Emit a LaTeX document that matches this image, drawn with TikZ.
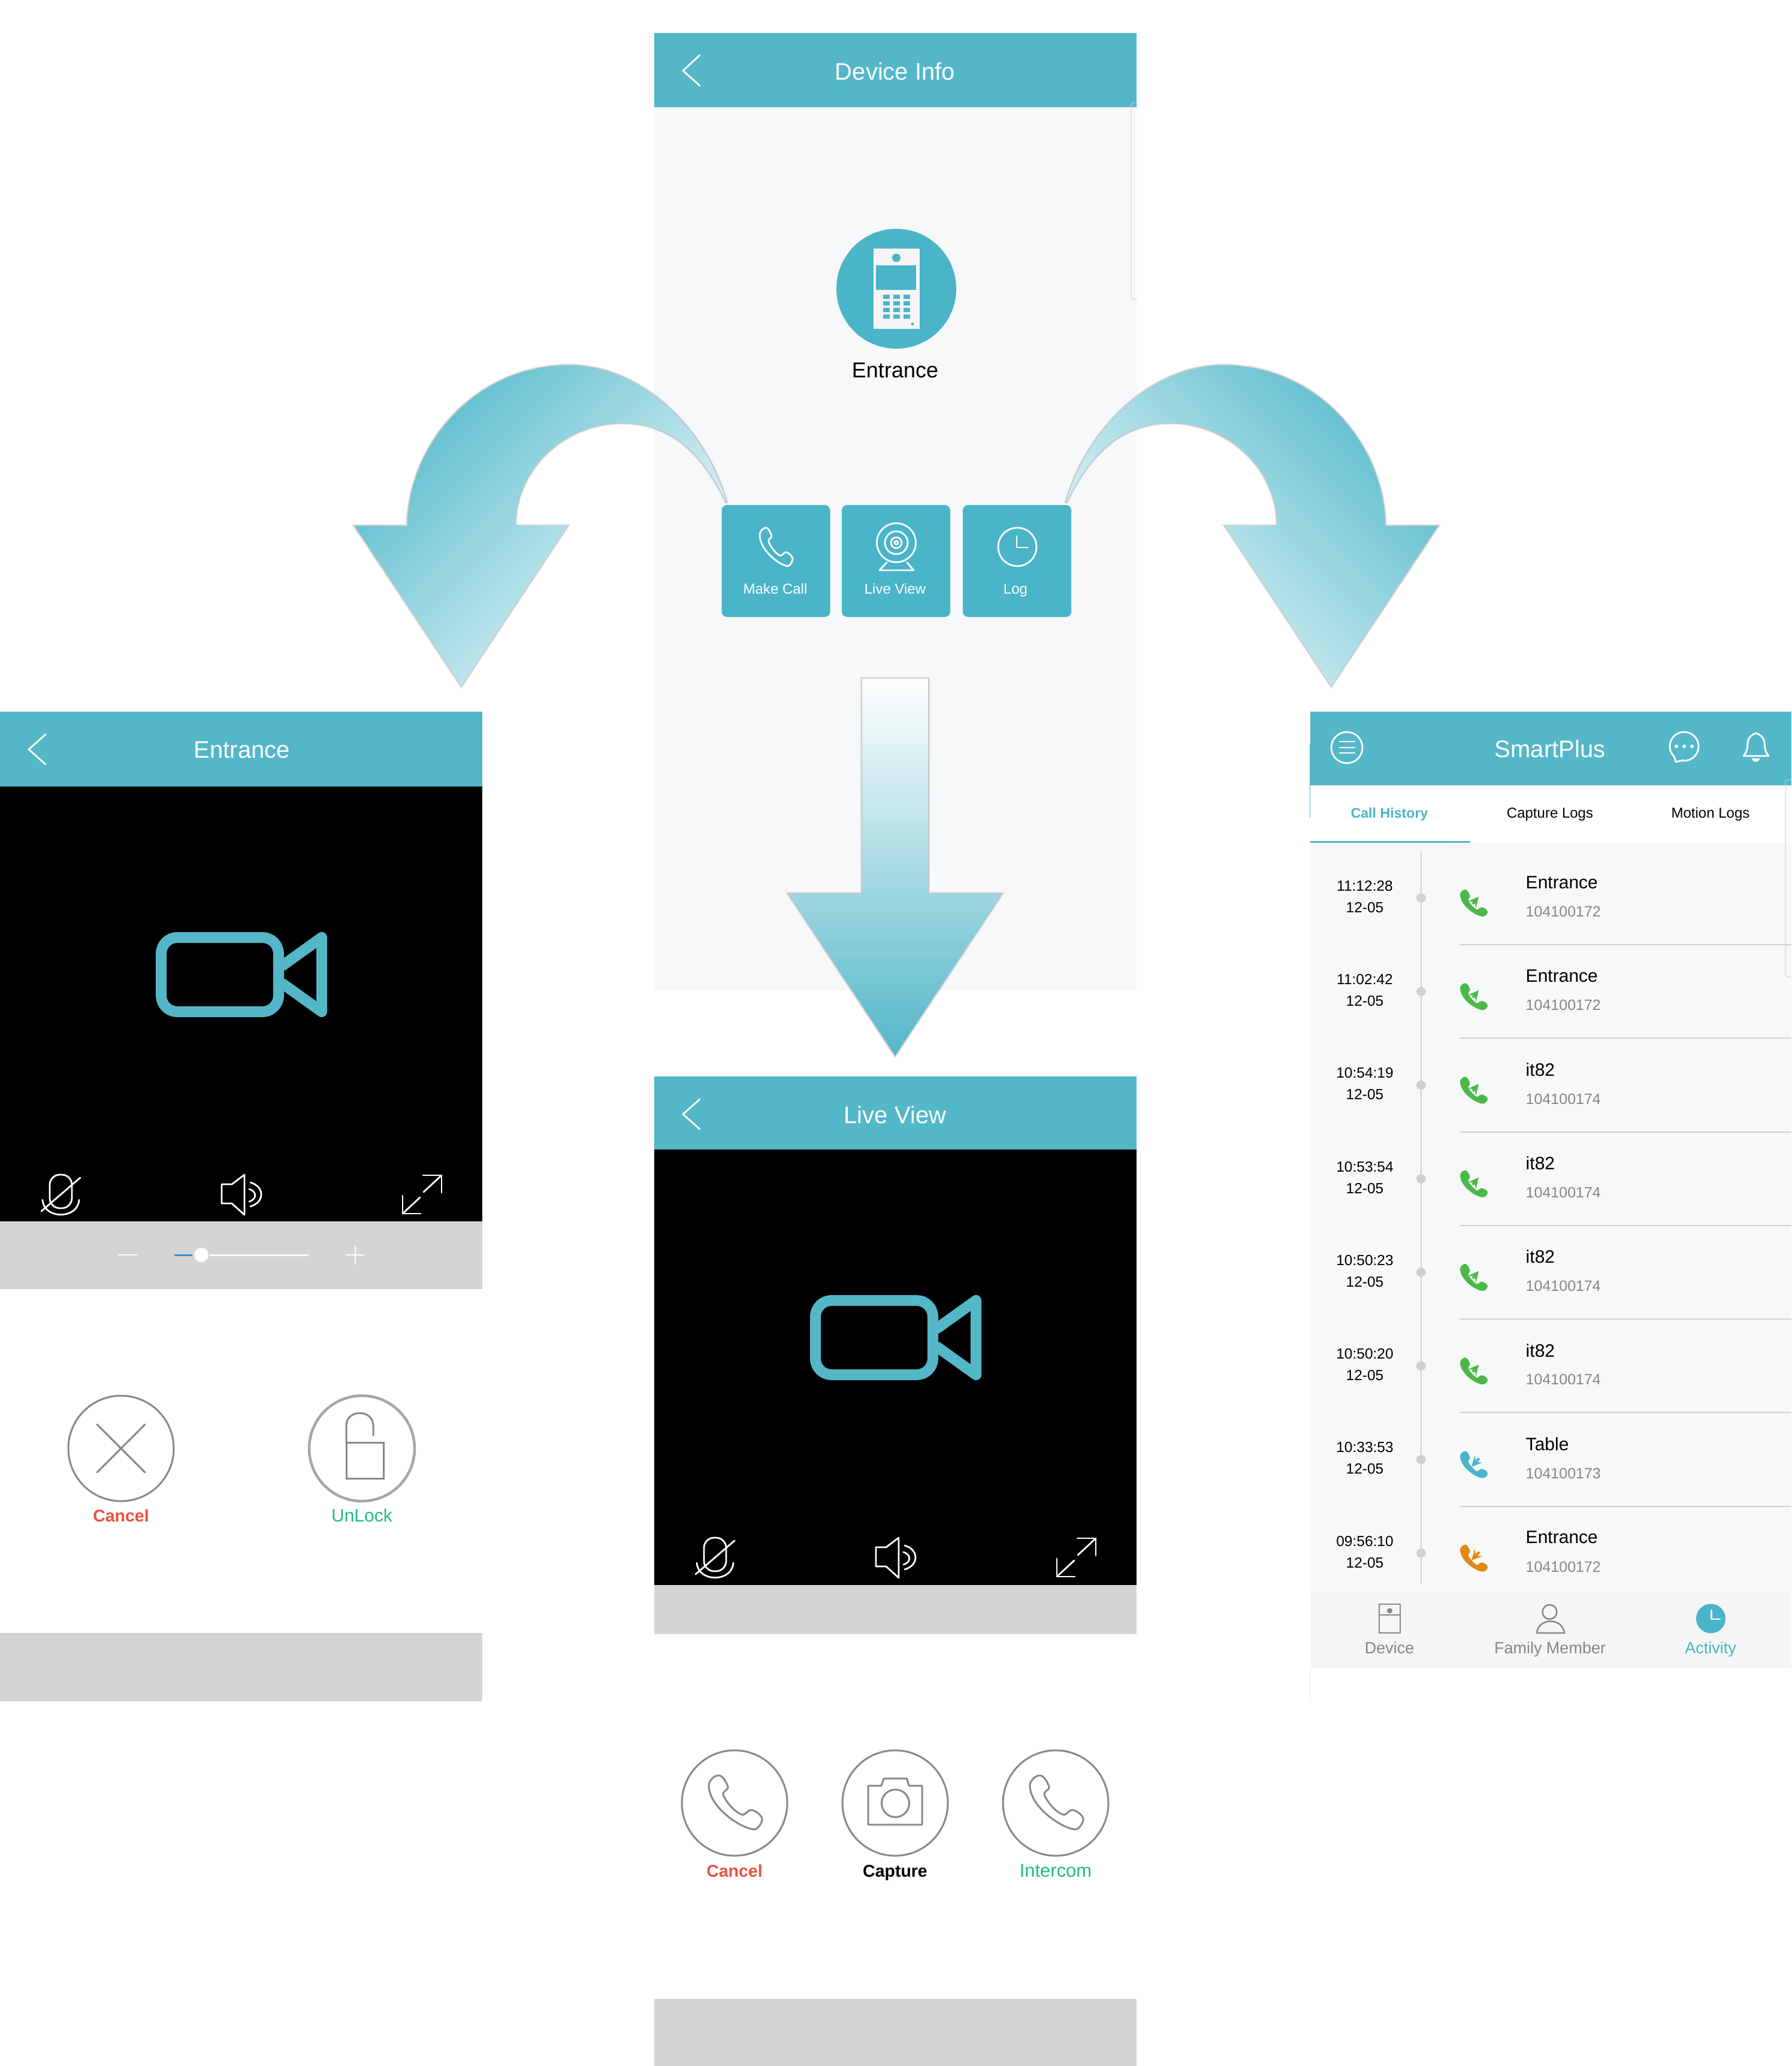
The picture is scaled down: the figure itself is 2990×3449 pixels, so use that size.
\documentclass[tikz,border=0pt]{standalone}
\usepackage{fontspec}
\setmainfont{Liberation Sans}
\definecolor{barteal}{HTML}{53B7C8}
\definecolor{tileteal}{HTML}{4AB4C8}
\definecolor{pagegrey}{HTML}{F6F8FA}
\definecolor{stripgrey}{HTML}{D4D4D4}
\definecolor{tabgrey}{HTML}{F5F5F5}
\definecolor{linegrey}{HTML}{D0D0D0}
\definecolor{ringgrey}{HTML}{888888}
\definecolor{numgrey}{HTML}{868686}
\definecolor{sliderblue}{HTML}{3A8FD0}
\definecolor{cancelred}{HTML}{E9513F}
\definecolor{okgreen}{HTML}{1FBB82}
\definecolor{callgreen}{HTML}{4CB848}
\definecolor{callorange}{HTML}{E2890F}
\definecolor{arrowdark}{RGB}{90,188,205}
\definecolor{arrowpale}{RGB}{240,250,251}
\newcommand{\pxsize}[1]{\fontsize{#1}{#1}\selectfont}
\tikzset{
    txt/.style={inner sep=0pt},
    basetxt/.style={inner sep=0pt, anchor=base},
    titletxt/.style={txt, white, font=\pxsize{11.38}},
    tiletxt/.style={basetxt, white, font=\pxsize{6.83}},
    tabtxt/.style={basetxt, font=\pxsize{6.83}},
    timetxt/.style={txt, font=\pxsize{6.97}},
    nametxt/.style={txt, anchor=west, font=\pxsize{8.54}},
    numtxt/.style={txt, anchor=west, numgrey, font=\pxsize{7.11}},
    bartxt/.style={basetxt, numgrey, font=\pxsize{7.68}},
    ringtxt/.style={basetxt, font=\pxsize{8.54}},
    boldtxt/.style={basetxt, font=\pxsize{8.1}\bfseries},
    tile/.style={fill=tileteal, rounded corners=0.09cm},
    thin white/.style={draw=white, line width=0.028cm, line cap=round, line join=round},
    ring/.style={draw=ringgrey, line width=0.03cm, line cap=round},
    curve arrow/.style={line join=round,
        preaction={draw=black, opacity=.08, line width=0.06cm},
        preaction={draw=black, opacity=.15, line width=0.03cm}},
    pics/handset/.style={code={
        \path[pic actions] (17,0) .. controls (25,-2) and (33,12) .. (36,21)
            .. controls (38,27) and (25,28) .. (27,36)
            .. controls (33,50) and (50,70) .. (64,73)
            .. controls (70,72) and (75,62) .. (81,64)
            .. controls (87,65) and (102,75) .. (100,83)
            .. controls (98,90) and (92,100) .. (85,100)
            .. controls (60,98) and (2,60) .. (0,20)
            .. controls (-1,12) and (8,1) .. (17,0) -- cycle;
    }},
    pics/solidset/.style={code={
        \path[pic actions] (17,0) .. controls (24,-2) and (33,12) .. (36,24)
            .. controls (37,30) and (27,34) .. (30,42)
            .. controls (36,52) and (48,66) .. (60,75)
            .. controls (66,76) and (70,66) .. (78,66)
            .. controls (85,66) and (101,74) .. (100,84)
            .. controls (98,93) and (90,100) .. (82,100)
            .. controls (55,98) and (2,60) .. (0,20)
            .. controls (-1,12) and (8,1) .. (17,0) -- cycle;
    }},
    pics/viewpane/.style={code={
        \fill[black] (0,0) rectangle (805,727);
        % Camera mark
        \draw[barteal, line width=0.18cm, rounded corners=0.27cm] (269,252) rectangle (465,376);
        \draw[barteal, line width=0.18cm, line join=round] (470,300) -- (537,252) -- (537,376) -- (470,328);
        % Microphone
        \draw[thin white, rounded corners=0.17cm] (83,648) rectangle (120,704);
        \draw[thin white] (71,690) .. controls (73,723) and (130,723) .. (132,690);
        \draw[thin white] (69,709) -- (134,653);
        % Speaker
        \draw[thin white] (370,664) -- (387,664) -- (408,648) -- (408,715) -- (387,696) -- (370,696) -- cycle;
        \draw[thin white] (418,661) .. controls (442,668) and (442,694) .. (418,701);
        \draw[thin white] (416,672) .. controls (429,676) and (429,689) .. (416,693);
        % Full screen
        \draw[thin white] (706,649) -- (737,649) -- (737,678);
        \draw[thin white] (737,649) -- (707,677);
        \draw[thin white] (672,683) -- (672,713) -- (702,713);
        \draw[thin white] (672,713) -- (701,686);
    }},
}

\begin{document}
\begin{tikzpicture}[x=0.01cm, y=-0.01cm]
    \useasboundingbox (0,0) rectangle (2990,3449);

    % Device screen
    \fill[pagegrey] (1092,179) rectangle (1897,1654);
    \fill[barteal] (1092,55) rectangle (1897,179);
    \draw[linegrey, line width=0.01cm, rounded corners=0.05cm] (1897,171) -- (1888,171) -- (1888,500) -- (1897,500);
    \draw[thin white] (1168,92) -- (1140,118) -- (1168,143);
    \node[titletxt] (devicetitle) at (1494,119) {Device Info};
    \fill[tileteal] (1496,482) circle[radius=100];
    \fill[tabgrey] (1458,415) rectangle (1535,549);
    \fill[tileteal] (1496,430.5) circle[radius=7];
    \fill[tileteal] (1462,443) rectangle (1529,484);
    \foreach \keyx in {1479,1496,1513} {
        \foreach \keyy in {495.5,507,518,529} {
            \fill[tileteal] (\keyx-5.5,\keyy-3.5) rectangle (\keyx+5.5,\keyy+3.5);
        }
    }
    \fill[tileteal] (1523,541) circle[radius=2.5];
    \node[txt, font=\pxsize{10.24}] (entrancename) at (1494,618) {Entrance};

    % Curved arrows
    \path[curve arrow, top color=arrowdark, bottom color=arrowpale, shading angle=45]
        (592,878) -- (680,878) .. controls (682,740) and (795,610) .. (950,610)
        .. controls (1073,610) and (1180,720) .. (1213,840)
        .. controls (1170,750) and (1115,706) .. (1038,706)
        .. controls (945,706) and (860,780) .. (860,878)
        -- (947,878) -- (770,1145) -- cycle;
    \path[curve arrow, top color=arrowdark, bottom color=arrowpale, shading angle=-45]
        (2400,878) -- (2312,878) .. controls (2310,740) and (2197,610) .. (2042,610)
        .. controls (1919,610) and (1812,720) .. (1779,840)
        .. controls (1822,750) and (1877,706) .. (1954,706)
        .. controls (2047,706) and (2132,780) .. (2132,878)
        -- (2045,878) -- (2222,1145) -- cycle;
    \path[curve arrow, top color=white, bottom color=barteal]
        (1439,1133) -- (1549,1133) -- (1549,1492) -- (1672,1492) -- (1494,1762)
        -- (1316,1492) -- (1439,1492) -- cycle;

    % Tiles
    \fill[tile] (1204.5,843) rectangle (1385.5,1030);
    \fill[tile] (1405,843) rectangle (1586,1030);
    \fill[tile] (1607,843) rectangle (1788,1030);
    \pic[thin white, fill=none, xscale=.55, yscale=.64] at (1268,881) {handset};
    \draw[thin white] (1496,906) circle[radius=32.5];
    \draw[thin white] (1496,906) circle[radius=19];
    \draw[thin white] (1496,906) circle[radius=9];
    \draw[thin white] (1496,906) circle[radius=3];
    \draw[thin white] (1480,939) -- (1468,952) -- (1525,952) -- (1514,939);
    \draw[thin white] (1698,913) circle[radius=32];
    \draw[thin white] (1697,895) -- (1697,914) -- (1716,914);
    \node[tiletxt] (makecall) at (1294,991) {Make Call};
    \node[tiletxt] (liveview) at (1494,991) {Live View};
    \node[tiletxt] (logview) at (1695,991) {Log};

    % Entrance screen
    \fill[barteal] (0,1188) rectangle (805,1313);
    \draw[thin white] (76,1226) -- (48,1251) -- (76,1276);
    \node[titletxt] (callertitle) at (404,1252) {Entrance};
    \pic at (0,1313) {viewpane};
    \fill[stripgrey] (0,2039) rectangle (805,2152);
    \draw[white, line width=0.02cm] (197,2095) -- (229,2095);
    \draw[sliderblue, line width=0.03cm] (291,2095) -- (321,2095);
    \draw[white, line width=0.03cm] (350,2095) -- (515,2095);
    \fill[white] (336,2095) circle[radius=12];
    \draw[white, line width=0.02cm] (577,2095) -- (608,2095);
    \draw[white, line width=0.02cm] (592.5,2079) -- (592.5,2111);
    \draw[ring] (202,2418) circle[radius=88];
    \draw[ring] (162,2378) -- (242,2458);
    \draw[ring] (242,2378) -- (162,2458);
    \draw[ring, draw=ringgrey!75, line width=0.045cm] (604,2418) circle[radius=88];
    \draw[ring] (578,2408) rectangle (640,2468);
    \draw[ring] (578,2408) -- (578,2380) .. controls (578,2352) and (623,2352) .. (623,2380) -- (623,2396);
    \node[boldtxt, cancelred] (hangup) at (202,2540) {Cancel};
    \node[ringtxt, okgreen] (unlock) at (604,2540) {UnLock};
    \fill[stripgrey] (0,2726) rectangle (805,2840);

    % Live view screen
    \fill[barteal] (1092,1797) rectangle (1897,1919);
    \draw[thin white] (1168,1835) -- (1140,1860) -- (1168,1885);
    \node[titletxt] (livetitle) at (1494,1861) {Live View};
    \pic at (1092,1919) {viewpane};
    \fill[stripgrey] (1092,2646) rectangle (1897,2728);
    \foreach \ringx in {1226,1494,1762} {
        \draw[ring] (\ringx,3010) circle[radius=88];
    }
    \pic[ring, fill=none, xscale=.89, yscale=.9] at (1183,2964) {handset};
    \pic[ring, fill=none, xscale=.89, yscale=.9] at (1719,2964) {handset};
    \draw[ring, line join=round] (1449,2981) -- (1471,2981) -- (1475,2969) -- (1513.5,2969) -- (1517,2981) -- (1539,2981) -- (1539,3046) -- (1449,3046) -- cycle;
    \draw[ring] (1494.5,3010.5) circle[radius=23];
    \node[boldtxt, cancelred] (cancelcall) at (1226,3133) {Cancel};
    \node[boldtxt] (capture) at (1494,3133) {Capture};
    \node[basetxt, okgreen, font=\pxsize{8.8}] (intercom) at (1762,3133) {Intercom};
    \fill[stripgrey] (1092,3337) rectangle (1897,3449);

    % Log screen
    \fill[barteal] (2187,1188) rectangle (2990,1311);
    \fill[pagegrey] (2187,1407) rectangle (2990,2658);
    \fill[tabgrey] (2187,2658) rectangle (2990,2785);
    \draw[barteal, line width=0.01cm] (2186,1242) -- (2186,1365);
    \draw[linegrey!50, line width=0.01cm] (2186,2785) -- (2186,2840);
    \draw[linegrey, line width=0.01cm, rounded corners=0.05cm] (2990,1301) -- (2980,1301) -- (2980,1631) -- (2990,1631);
    \draw[thin white] (2248,1248) circle[radius=26];
    \foreach \menuy in {1238,1248,1257} {
        \draw[thin white] (2236,\menuy) -- (2261,\menuy);
    }
    \node[titletxt] (logtitle) at (2587,1250) {SmartPlus};
    \draw[thin white] (2811,1246) circle[radius=24];
    \fill[barteal] (2794,1262) -- (2797,1272) -- (2810,1269) -- (2805,1262) -- cycle;
    \draw[thin white] (2794,1262) -- (2797,1272) -- (2810,1269);
    \foreach \dotx in {2798,2811,2824} {
        \fill[white] (\dotx,1246) circle[radius=3];
    }
    \draw[thin white] (2910,1262) .. controls (2918,1252) and (2916,1246) .. (2917,1240)
        .. controls (2918,1230) and (2925,1226) .. (2931,1224)
        .. controls (2937,1226) and (2944,1230) .. (2945,1240)
        .. controls (2946,1246) and (2944,1252) .. (2952,1262) -- cycle;
    \fill[white] (2924,1266) -- (2937,1266) .. controls (2936,1274) and (2925,1274) .. (2924,1266) -- cycle;
    \node[basetxt, tileteal, font=\pxsize{6.6}\bfseries] (callhistory) at (2319,1365) {Call History};
    \node[tabtxt] (capturelogs) at (2587,1365) {Capture Logs};
    \node[tabtxt] (motionlogs) at (2855,1365) {Motion Logs};
    \draw[barteal, line width=0.025cm] (2187,1405.5) -- (2454,1405.5);
    \draw[linegrey, line width=0.02cm] (2372,1421) -- (2372,2644);
    \foreach \rowid/\clock/\who/\callnum/\tone/\dirn in {
        1/11:12:28/Entrance/104100172/callgreen/0,
        2/11:02:42/Entrance/104100172/callgreen/0,
        3/10:54:19/it82/104100174/callgreen/0,
        4/10:53:54/it82/104100174/callgreen/0,
        5/10:50:23/it82/104100174/callgreen/0,
        6/10:50:20/it82/104100174/callgreen/0,
        7/10:33:53/Table/104100173/tileteal/1,
        8/09:56:10/Entrance/104100172/callorange/1} {
        \pgfmathsetmacro\rowy{1479+156.25*(\rowid-1)}
        \node[timetxt] (clock-\rowid) at (2278,\rowy) {\clock};
        \node[timetxt] (date-\rowid) at (2278,\rowy+36) {12-05};
        \fill[linegrey] (2372,\rowy+20) ellipse[x radius=8, y radius=7.5];
        \pic[fill=\tone, xscale=.46, yscale=.45] at (2437,\rowy+6) {solidset};
        \ifnum\dirn=0
            \draw[-stealth, \tone, line width=0.04cm] (2458,\rowy+30) -- (2468,\rowy+18);
        \else
            \draw[stealth-, \tone, line width=0.04cm] (2456,\rowy+32) -- (2469,\rowy+18);
        \fi
        \node[nametxt] (name-\rowid) at (2546,\rowy-6) {\who};
        \node[numtxt] (num-\rowid) at (2546,\rowy+43) {\callnum};
        \ifnum\rowid<8
            \draw[linegrey, line width=0.02cm] (2436,\rowy+98) -- (2990,\rowy+98);
        \fi
    }

    % Tab bar
    \draw[ring, line width=0.025cm] (2302,2678) rectangle (2337,2726);
    \draw[ring, line width=0.025cm] (2302,2696) -- (2337,2696);
    \fill[ringgrey] (2319.5,2689) circle[radius=4.5];
    \draw[ring, line width=0.025cm] (2586.5,2691) circle[radius=12];
    \draw[ring, line width=0.025cm] (2565,2726) .. controls (2568,2700) and (2608,2700) .. (2611,2726) -- cycle;
    \fill[tileteal] (2855.5,2702) circle[radius=24.5];
    \draw[thin white] (2856.5,2688) -- (2856.5,2703) -- (2871,2703);
    \node[bartxt] (devicetab) at (2319,2760) {Device};
    \node[bartxt] (familytab) at (2587,2760) {Family Member};
    \node[bartxt, tileteal] (activitytab) at (2855,2760) {Activity};
\end{tikzpicture}
\end{document}
